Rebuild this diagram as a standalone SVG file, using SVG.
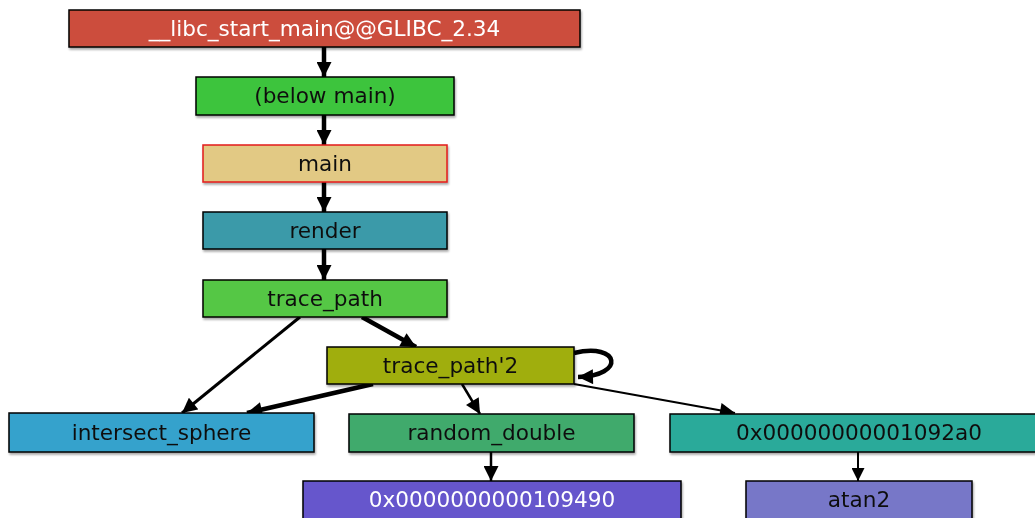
<svg xmlns="http://www.w3.org/2000/svg" width="1035" height="518" viewBox="0 0 1035 518">
<style>
.n rect{stroke:#000;stroke-width:1.5}
.n text{font-family:"DejaVu Sans","Liberation Sans",sans-serif;font-size:21.6px;text-anchor:middle;fill:#111}
.n text.w{fill:#fff}
.e{stroke:#000;fill:none}
</style>
<defs>
<marker id="ah" markerUnits="userSpaceOnUse" markerWidth="16" markerHeight="15" refX="12" refY="6" orient="auto" viewBox="0 0 12 12">
<path d="M0,0 L12,6 L0,12 Z" fill="#000"/>
</marker>
<marker id="ahs" markerUnits="userSpaceOnUse" markerWidth="13" markerHeight="13" refX="12" refY="6" orient="auto" viewBox="0 0 12 12">
<path d="M0,0 L12,6 L0,12 Z" fill="#000"/>
</marker>
<filter id="sh" x="-5%" y="-20%" width="110%" height="150%">
<feGaussianBlur in="SourceAlpha" stdDeviation="1.2"/>
<feOffset dx="1" dy="1.5"/>
<feComponentTransfer><feFuncA type="linear" slope="0.35"/></feComponentTransfer>
<feMerge><feMergeNode/><feMergeNode in="SourceGraphic"/></feMerge>
</filter>
</defs>
<g id="connectors">
<line class="e" x1="324" y1="47" x2="324" y2="77" stroke-width="4.5" marker-end="url(#ah)"/>
<line class="e" x1="324" y1="115" x2="324" y2="145" stroke-width="4.5" marker-end="url(#ah)"/>
<line class="e" x1="324" y1="182" x2="324" y2="212" stroke-width="4.5" marker-end="url(#ah)"/>
<line class="e" x1="324" y1="249" x2="324" y2="280" stroke-width="4.5" marker-end="url(#ah)"/>
<line class="e" x1="300" y1="317" x2="182" y2="413" stroke-width="3" marker-end="url(#ah)"/>
<line class="e" x1="362" y1="317" x2="416" y2="347" stroke-width="4.5" marker-end="url(#ah)"/>
<path class="e" d="M574,353 C620,342 626,376 578,377" stroke-width="4.5" marker-end="url(#ah)"/>
<line class="e" x1="373" y1="384" x2="247" y2="413" stroke-width="4.5" marker-end="url(#ah)"/>
<line class="e" x1="462" y1="384" x2="480" y2="414" stroke-width="2.5" marker-end="url(#ah)"/>
<line class="e" x1="574" y1="384" x2="735" y2="413" stroke-width="2" marker-end="url(#ah)"/>
<line class="e" x1="491" y1="452" x2="491" y2="481" stroke-width="2.5" marker-end="url(#ah)"/>
<line class="e" x1="858" y1="452" x2="858" y2="481" stroke-width="2" marker-end="url(#ahs)"/>
</g>
<g id="n_libc" class="n" filter="url(#sh)"><rect x="69" y="10" width="511" height="37" fill="#cc4d3e"/><text class="w" x="324.5" y="36">__libc_start_main@@GLIBC_2.34</text></g>
<g id="n_below" class="n" filter="url(#sh)"><rect x="196" y="77" width="258" height="38" fill="#3ec43c"/><text x="325" y="103">(below main)</text></g>
<g id="n_main" class="n" filter="url(#sh)"><rect x="203" y="145" width="244" height="37" fill="#e2c984" style="stroke:#e21a1a"/><text x="325" y="171">main</text></g>
<g id="n_render" class="n" filter="url(#sh)"><rect x="203" y="212" width="244" height="37" fill="#3a9aa9"/><text x="325" y="238">render</text></g>
<g id="n_trace" class="n" filter="url(#sh)"><rect x="203" y="280" width="244" height="37" fill="#55c744"/><text x="325" y="306">trace_path</text></g>
<g id="n_trace2" class="n" filter="url(#sh)"><rect x="327" y="347" width="247" height="37" fill="#a0ae0c"/><text x="450.5" y="373">trace_path'2</text></g>
<g id="n_isect" class="n" filter="url(#sh)"><rect x="9" y="413" width="305" height="39" fill="#34a2cc"/><text x="161.5" y="440">intersect_sphere</text></g>
<g id="n_rand" class="n" filter="url(#sh)"><rect x="349" y="414" width="285" height="38" fill="#3faa6c"/><text x="491.5" y="440">random_double</text></g>
<g id="n_92a0" class="n" filter="url(#sh)"><rect x="670" y="414" width="370" height="38" fill="#2aaa9a"/><text x="859" y="440">0x00000000001092a0</text></g>
<g id="n_9490" class="n" filter="url(#sh)"><rect x="303" y="481" width="378" height="40" fill="#6656cc"/><text class="w" x="492" y="507">0x0000000000109490</text></g>
<g id="n_atan2" class="n" filter="url(#sh)"><rect x="746" y="481" width="226" height="40" fill="#7777c8"/><text x="859" y="507">atan2</text></g>
</svg>
